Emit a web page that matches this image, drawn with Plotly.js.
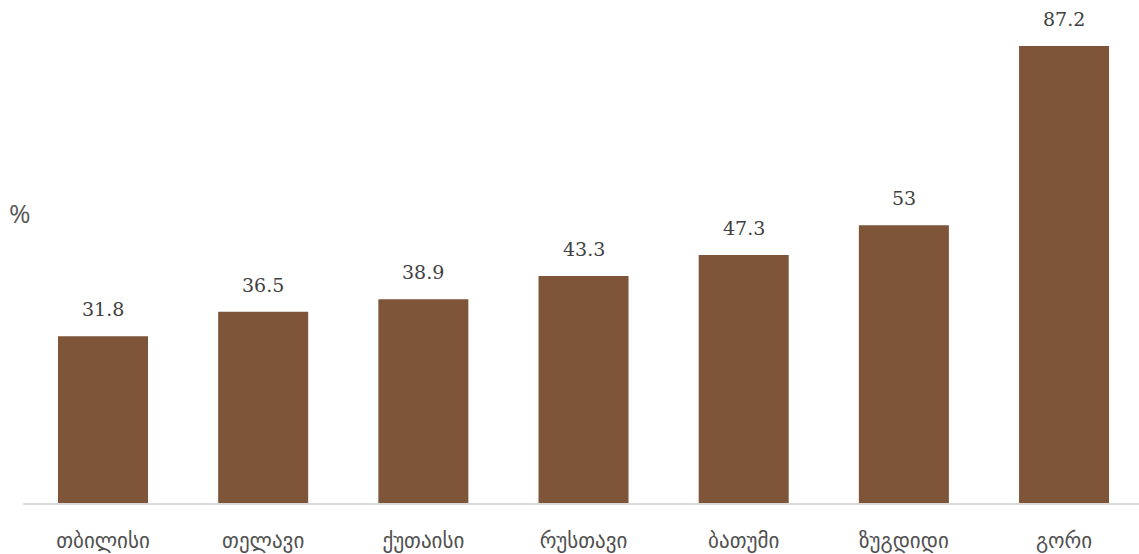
<!DOCTYPE html>
<html>
<head>
<meta charset="utf-8">
<script src="https://cdn.plot.ly/plotly-3.0.1.min.js"></script>
<style>html,body{margin:0;padding:0;background:#fff;}#chart{width:1139px;height:554px;}</style>
</head>
<body>
<div id="chart"></div>
<script>
const categories = ["თბილისი", "თელავი", "ქუთაისი", "რუსთავი", "ბათუმი", "ზუგდიდი", "გორი"];
const values = [31.8, 36.5, 38.9, 43.3, 47.3, 53, 87.2];
const valueLabels = ["31.8", "36.5", "38.9", "43.3", "47.3", "53", "87.2"];
const yUnit = "%";

const serif = "DejaVu Serif, Liberation Serif, serif";
const textColor = "#404040";

const trace = {
  type: "bar",
  x: categories,
  y: values,
  marker: {color: "#7F5539"},
  hoverinfo: "none"
};

const annotations = categories.map((c, i) => ({
  x: c, y: values[i], xref: "x", yref: "y",
  text: valueLabels[i], showarrow: false,
  yanchor: "bottom", yshift: 14,
  font: {family: serif, size: 19, color: textColor}
}));
annotations.push({
  x: (20 - 23) / 1116, y: (503 - 213) / 493, xref: "paper", yref: "paper",
  text: yUnit, showarrow: false, xanchor: "center", yanchor: "middle",
  font: {family: "Open Sans, DejaVu Sans, sans-serif", size: 26, color: "#595959"}
});

const layout = {
  width: 1139, height: 554,
  margin: {l: 23, r: 0, t: 10, b: 51},
  paper_bgcolor: "#fff", plot_bgcolor: "#fff",
  bargap: 0.438,
  showlegend: false,
  xaxis: {
    type: "category",
    range: [-0.4995, 6.468],
    showgrid: false, zeroline: false,
    showline: true, linecolor: "#d9d9d9", linewidth: 1.5,
    ticks: "", ticklabelstandoff: 18,
    tickfont: {family: "DejaVu Sans, sans-serif", size: 21, color: "#505050"}
  },
  yaxis: {
    range: [0, 94.07],
    showgrid: false, zeroline: false, showline: false,
    showticklabels: false, ticks: ""
  },
  annotations: annotations
};

Plotly.newPlot("chart", [trace], layout, {displayModeBar: false, staticPlot: true});
</script>
</body>
</html>
